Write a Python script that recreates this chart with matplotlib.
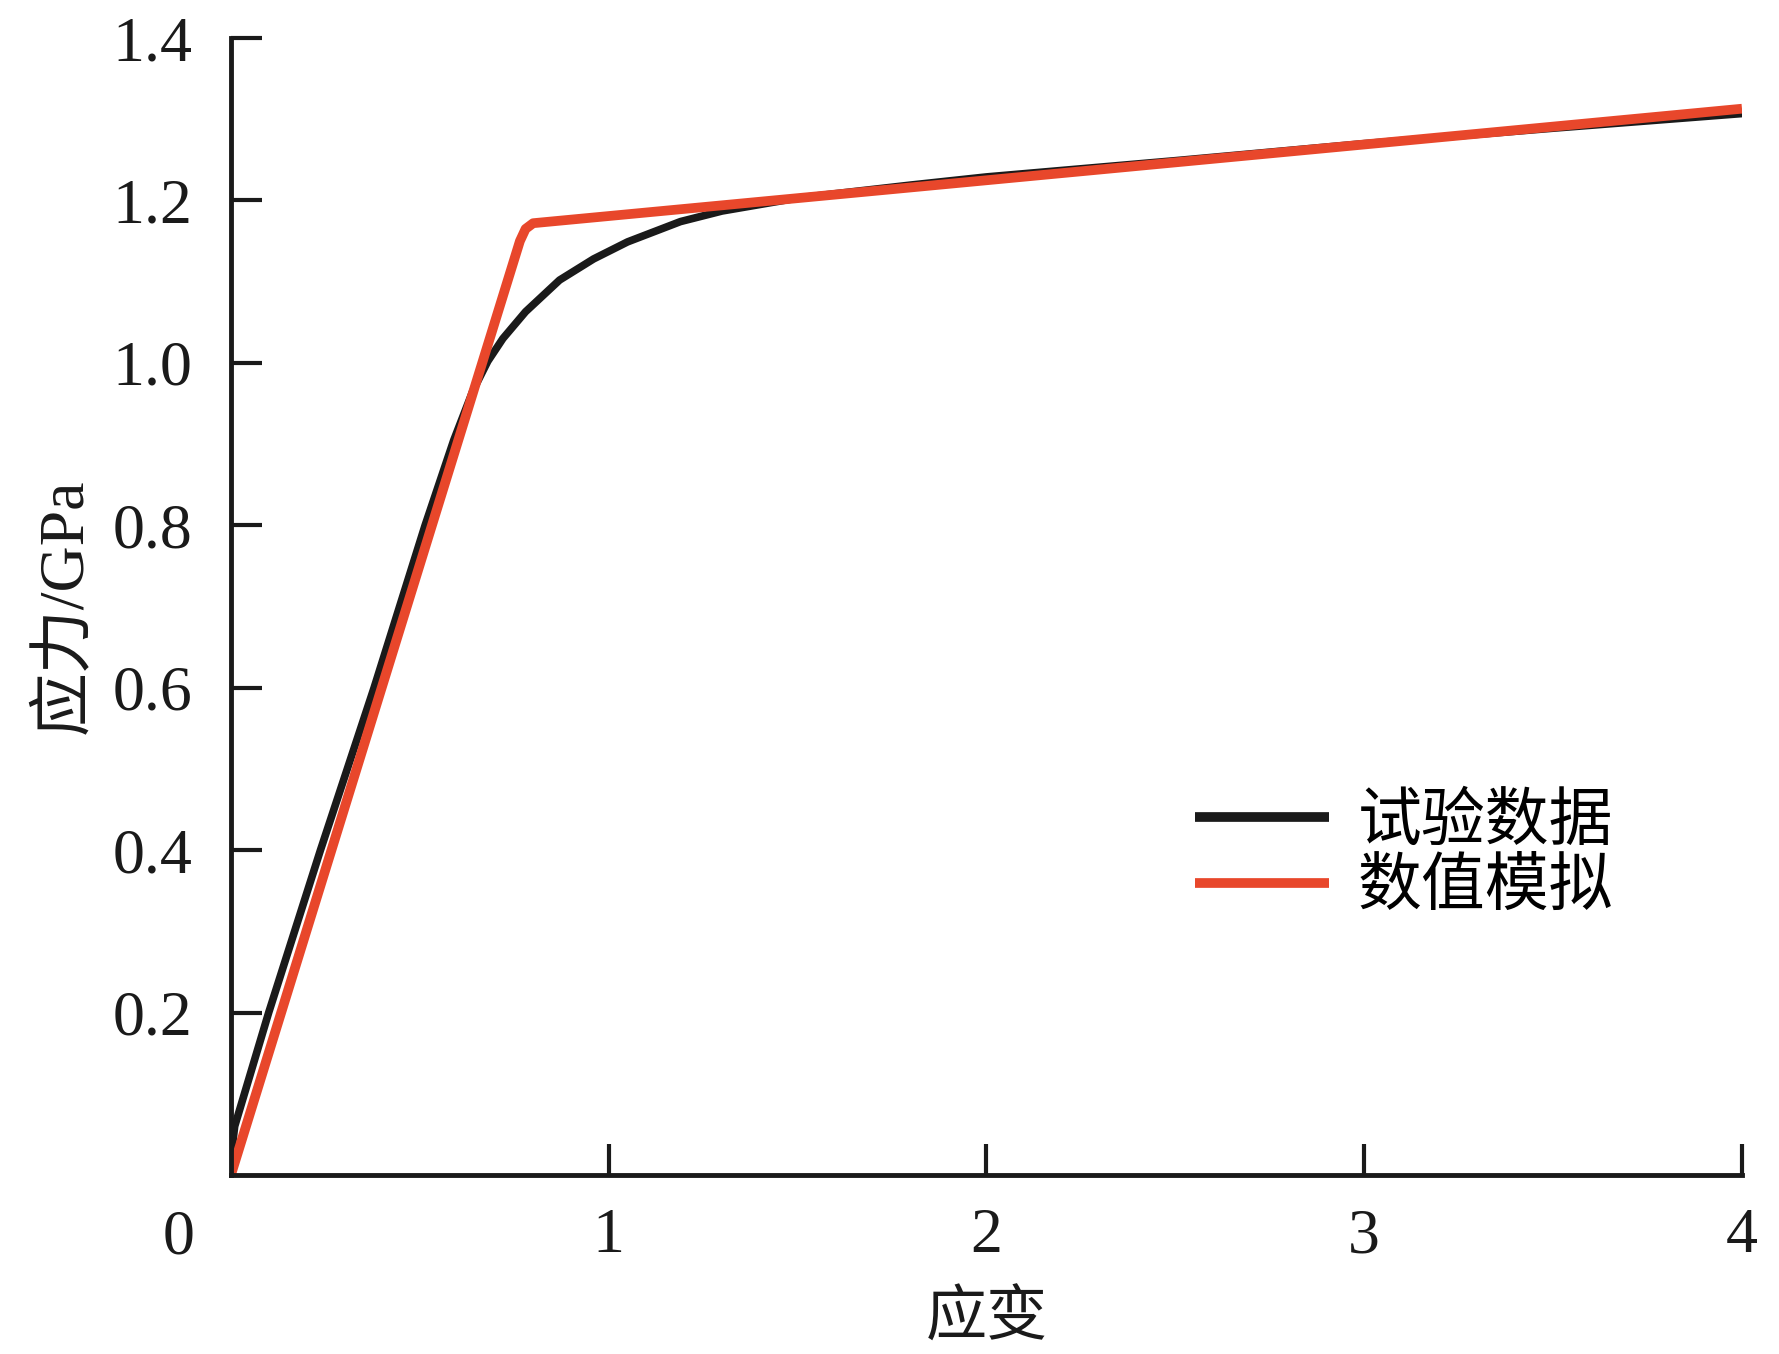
import matplotlib
matplotlib.use("Agg")
import matplotlib.pyplot as plt

plt.rcParams['font.family'] = ['Liberation Serif', 'Noto Sans CJK SC']

# experimental curve (black)
exp_strain = [0.0, 0.01, 0.10, 0.237, 0.379, 0.514, 0.59, 0.64, 0.68, 0.72, 0.78,
              0.87, 0.96, 1.05, 1.19, 1.30, 1.50, 1.80, 2.0, 2.5, 3.0, 3.5, 4.0]
exp_stress = [0.02, 0.06, 0.20, 0.40, 0.60, 0.80, 0.905, 0.965, 1.002, 1.030, 1.063,
              1.102, 1.128, 1.149, 1.174, 1.187, 1.203, 1.219, 1.229, 1.249, 1.270, 1.289, 1.307]

# numerical simulation (red)
sim_strain = [0.0, 0.765, 0.78, 0.80, 4.0]
sim_stress = [0.0, 1.150, 1.165, 1.172, 1.313]

labels = ["试验数据", "数值模拟"]
xticks = [1, 2, 3, 4]
yticks = [0.2, 0.4, 0.6, 0.8, 1.0, 1.2, 1.4]

BLACK = "#1a1a1a"
RED = "#e8472b"

fig = plt.figure(figsize=(17.79, 13.54), dpi=100)
ax = fig.add_axes([0.1298, 0.1322, 0.8494, 0.8397])

ax.plot(exp_strain, exp_stress, color=BLACK, lw=5.5, label=labels[0],
        solid_capstyle='butt', solid_joinstyle='round')
ax.plot(sim_strain, sim_stress, color=RED, lw=7, label=labels[1],
        solid_capstyle='butt', solid_joinstyle='round')

ax.set_xlim(0, 4)
ax.set_ylim(0, 1.4)
ax.set_xticks(xticks)
ax.set_xticklabels([str(t) for t in xticks])
ax.set_yticks(yticks)
ax.set_yticklabels([f"{t:.1f}" for t in yticks])

for side in ("top", "right"):
    ax.spines[side].set_visible(False)
for side in ("left", "bottom"):
    ax.spines[side].set_linewidth(3.5)
    ax.spines[side].set_color(BLACK)

ax.tick_params(axis='both', direction='in', length=22, width=3, colors=BLACK, labelsize=46)
ax.tick_params(axis='x', pad=24)
ax.tick_params(axis='y', pad=28)

# lone "0" at the origin corner
ax.text(-0.138, -0.0300, "0", transform=ax.get_xaxis_transform(), ha='center', va='top',
        fontsize=46, color=BLACK)

ax.set_xlabel("应变", fontsize=44, labelpad=18, color=BLACK)
ax.set_ylabel("应力/GPa", fontsize=46, labelpad=12, color=BLACK)

leg = ax.legend(loc='center left', bbox_to_anchor=(0.638, 0.28), frameon=False,
                prop={'size': 46, 'weight': 'medium'}, handlelength=2.1,
                handletextpad=0.45, labelspacing=0.1, borderpad=0, borderaxespad=0)
for line in leg.get_lines():
    line.set_linewidth(7)

fig.savefig("out.png", dpi=100)
